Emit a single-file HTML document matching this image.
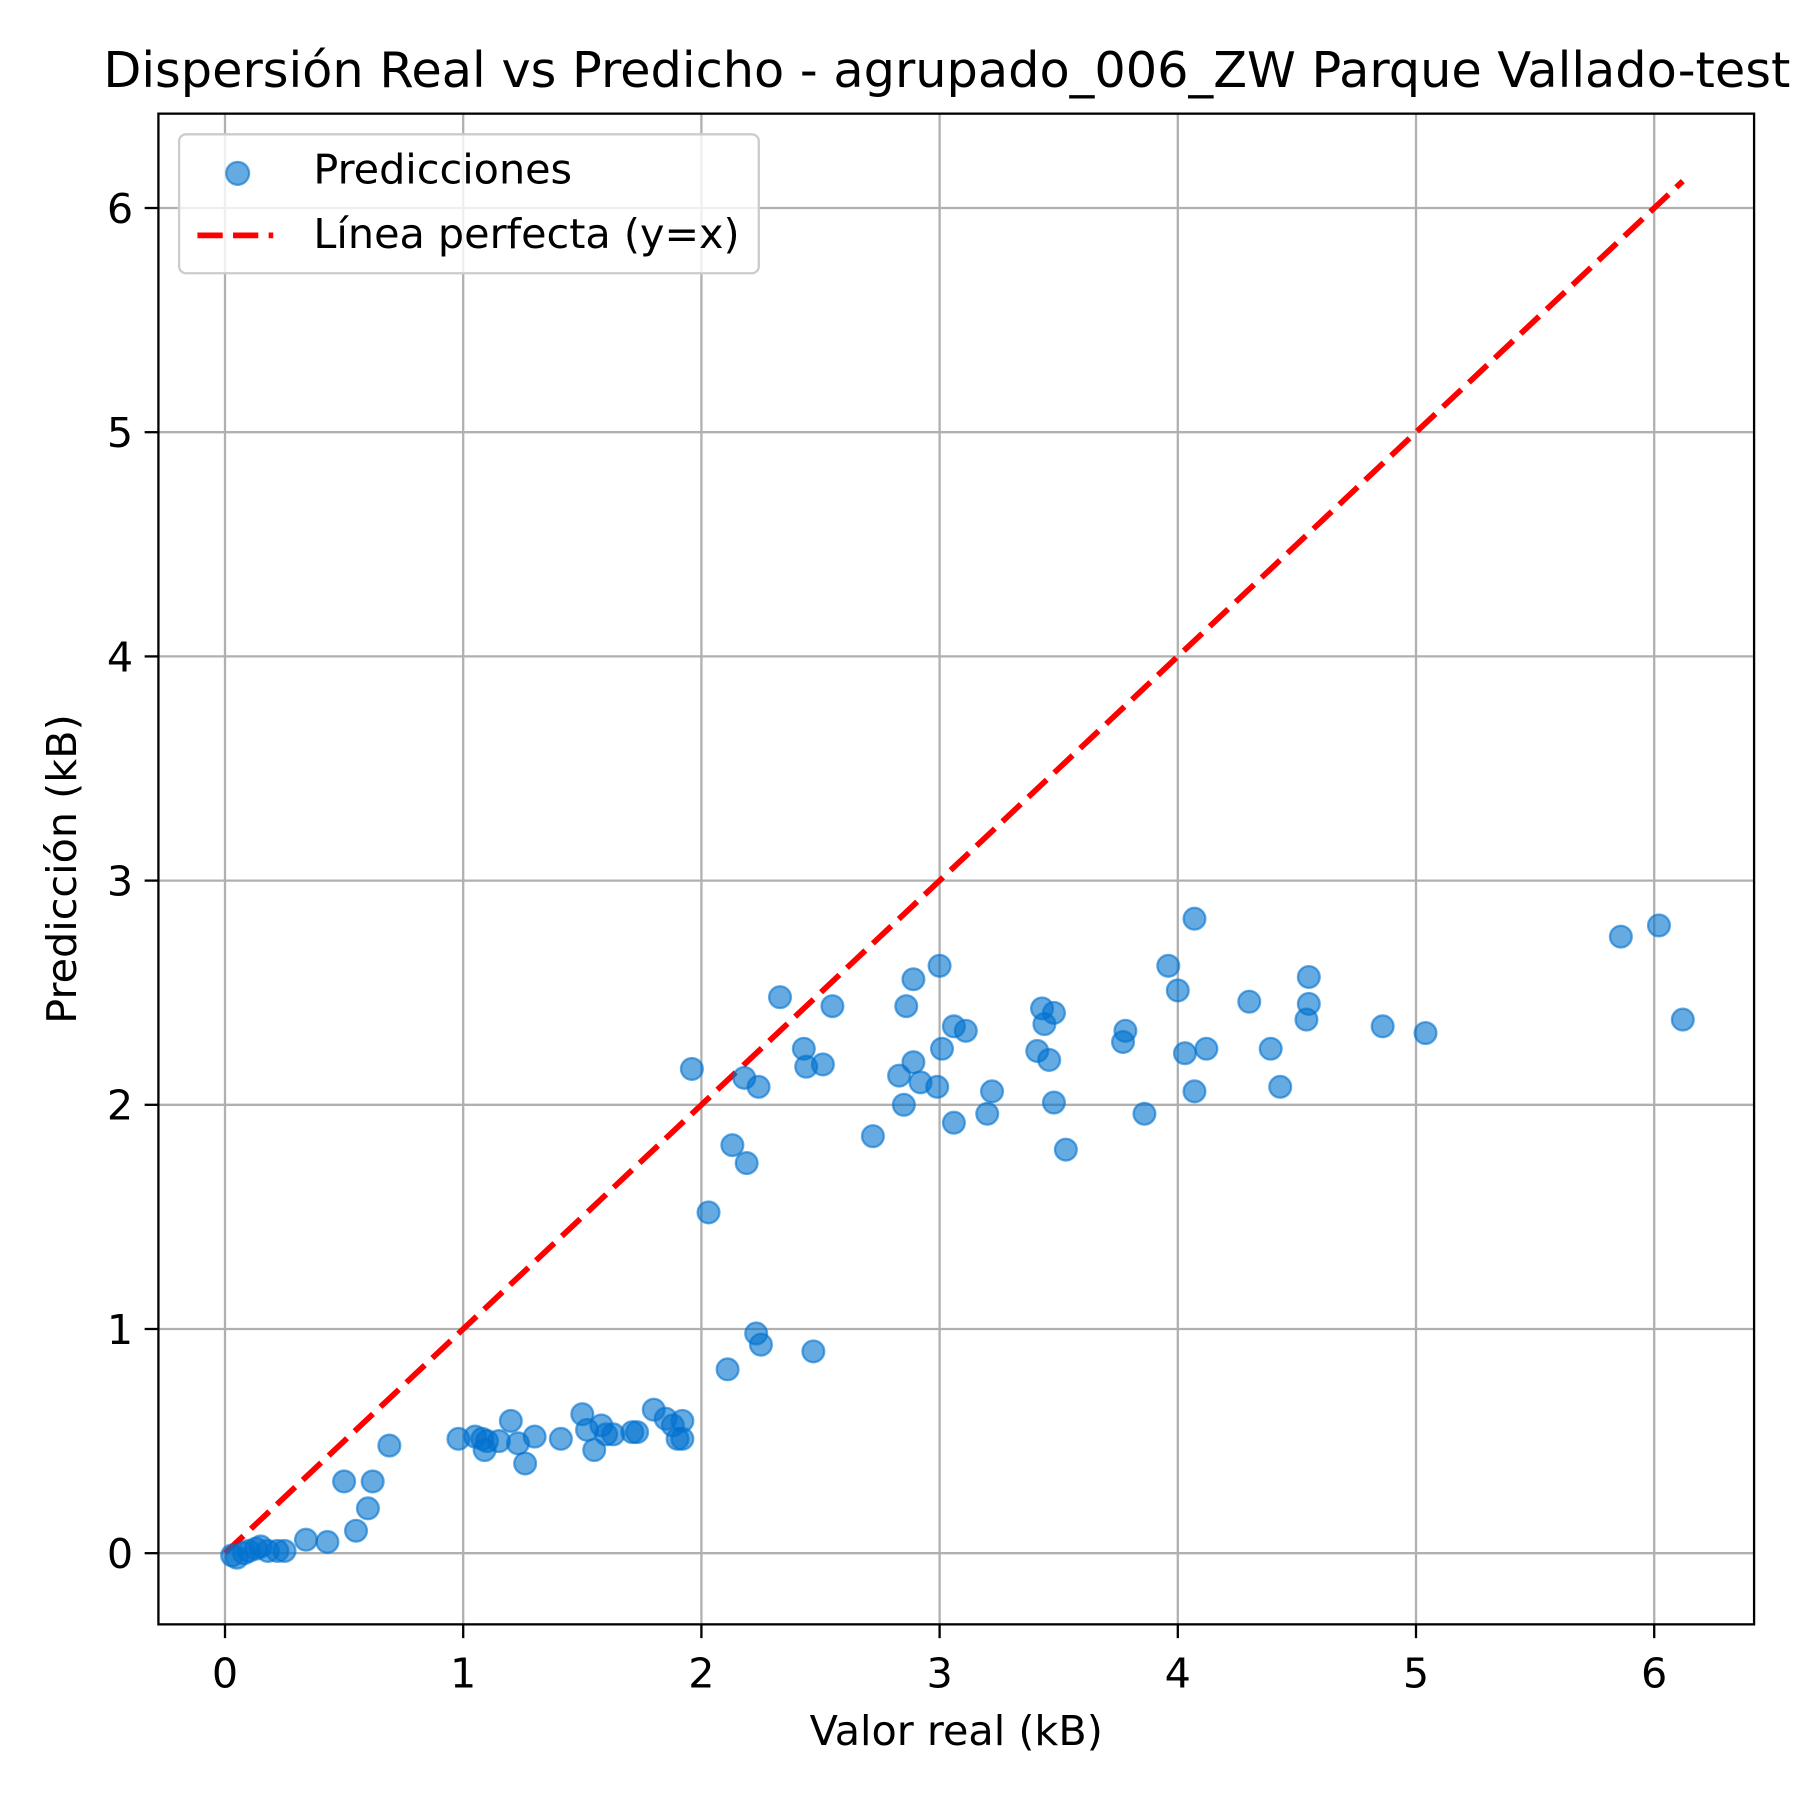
<!DOCTYPE html>
<html><head><meta charset="utf-8"><style>html,body{margin:0;padding:0;background:#fff}svg{display:block}text{font-family:"DejaVu Sans","Liberation Sans",sans-serif;fill:#000}</style></head>
<body>
<svg id="chart" width="1800" height="1800" viewBox="0 0 1568 1568" xmlns="http://www.w3.org/2000/svg">
<rect width="1568" height="1568" fill="#fff"/>
<text x="90" y="76" font-size="43">Dispersión Real vs Predicho - agrupado_006_ZW Parque Vallado-test</text>
<g id="grid"></g>
<g id="ticks"></g>
<g id="line"></g>
<g id="points"></g>
<rect x="138" y="99" width="1390" height="1316" fill="none" stroke="#000" stroke-width="2"/>
<text x="833" y="1520" font-size="36" text-anchor="middle">Valor real (kB)</text>
<text transform="translate(66,757) rotate(-90)" font-size="36" text-anchor="middle">Predicción (kB)</text>
<g>
<rect x="156" y="117" width="505" height="121" rx="6" fill="#fff" fill-opacity="0.8" stroke="#ccc" stroke-width="2"/>
<circle cx="207" cy="151" r="10" fill="rgba(0,114,206,0.6)" stroke="rgba(0,114,206,0.6)" stroke-width="2"/>
<text x="273" y="160" font-size="36">Predicciones</text>
<line x1="172" y1="205" x2="238" y2="205" stroke="#f00" stroke-width="5" stroke-dasharray="22,9"/>
<text x="273" y="216" font-size="36">Línea perfecta (y=x)</text>
</g>
</svg>
<script>
const xTicks=[0,1,2,3,4,5,6];
const yTicks=[0,1,2,3,4,5,6];
const realVals=[0.03,0.05,0.08,0.1,0.13,0.15,0.18,0.22,0.25,0.34,0.43,0.5,0.55,0.6,0.62,0.69,
0.98,1.05,1.08,1.09,1.1,1.15,1.2,1.23,1.26,1.3,1.41,1.5,1.52,1.55,1.58,1.6,1.63,1.71,1.73,1.8,1.85,1.88,1.9,1.92,1.92,
2.11,2.23,2.25,2.47,
1.96,2.03,2.13,2.18,2.19,2.24,2.33,2.43,2.44,2.51,2.55,2.72,2.83,2.85,2.86,2.89,2.89,2.92,2.99,3.0,3.01,3.06,3.06,3.11,3.2,3.22,3.41,3.43,3.44,3.46,3.48,3.48,3.53,3.77,3.78,3.86,3.96,4.0,4.03,4.07,4.07,4.12,4.3,4.39,4.43,4.54,4.55,4.55,4.86,5.04,5.86,6.02,6.12];
const predVals=[-0.01,-0.02,0,0.01,0.02,0.03,0.01,0.01,0.01,0.06,0.05,0.32,0.1,0.2,0.32,0.48,
0.51,0.52,0.51,0.46,0.5,0.5,0.59,0.49,0.4,0.52,0.51,0.62,0.55,0.46,0.57,0.53,0.53,0.54,0.54,0.64,0.6,0.57,0.51,0.59,0.51,
0.82,0.98,0.93,0.9,
2.16,1.52,1.82,2.12,1.74,2.08,2.48,2.25,2.17,2.18,2.44,1.86,2.13,2.0,2.44,2.56,2.19,2.1,2.08,2.62,2.25,1.92,2.35,2.33,1.96,2.06,2.24,2.43,2.36,2.2,2.41,2.01,1.8,2.28,2.33,1.96,2.62,2.51,2.23,2.06,2.83,2.25,2.46,2.25,2.08,2.38,2.45,2.57,2.35,2.32,2.75,2.8,2.38];
const lineRange=[0,6.12];
const NS="http://www.w3.org/2000/svg";
const L=138,R=1528,T=99,B=1415;
function sx(v){return 196+v*207.5;}
function sy(v){return 1353-v*195.3;}
function mk(tag,attrs,parent){const e=document.createElementNS(NS,tag);for(const k in attrs)e.setAttribute(k,attrs[k]);parent.appendChild(e);return e;}
const grid=document.getElementById('grid'),ticks=document.getElementById('ticks');
xTicks.forEach(t=>{
 const g=mk('line',{x1:sx(t),x2:sx(t),y1:T,y2:B,stroke:'#b0b0b0','stroke-width':2},grid);
 
 
 const tk=mk('line',{x1:sx(t),x2:sx(t),y1:B,y2:B+12,stroke:'#000','stroke-width':2},ticks);
 
 
 const tx=mk('text',{x:sx(t),y:B+55,'font-size':36,'text-anchor':'middle'},ticks);
 tx.textContent=t;
 
 
});
yTicks.forEach(t=>{
 const g=mk('line',{x1:L,x2:R,y1:sy(t),y2:sy(t),stroke:'#b0b0b0','stroke-width':2},grid);
 
 
 const tk=mk('line',{x1:L-12,x2:L,y1:sy(t),y2:sy(t),stroke:'#000','stroke-width':2},ticks);
 
 
 const tx=mk('text',{x:L-22,y:sy(t)+13,'font-size':36,'text-anchor':'end'},ticks);
 tx.textContent=t;
 
 
});
const ln=mk('line',{x1:sx(lineRange[0]),y1:sy(lineRange[0]),x2:sx(lineRange[1]),y2:sy(lineRange[1]),stroke:'#f00','stroke-width':5,'stroke-dasharray':'22,9'},document.getElementById('line'));


const pts=document.getElementById('points');
realVals.forEach((v,i)=>{
 const c=mk('circle',{cx:sx(v),cy:sy(predVals[i]),r:9.5,fill:'rgba(0,114,206,0.6)',stroke:'rgba(0,114,206,0.6)','stroke-width':2},pts);
 
 
});
</script>
</body></html>
